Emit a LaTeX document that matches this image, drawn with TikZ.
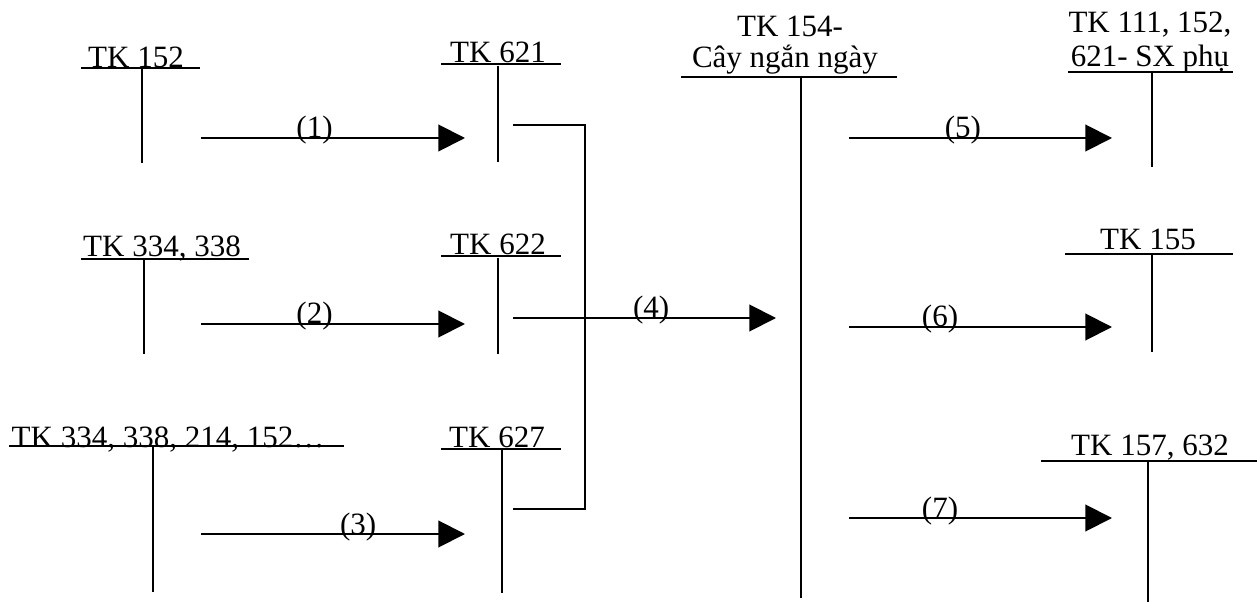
\documentclass[tikz,border=0pt]{standalone}
\usepackage{fontspec}
\setmainfont{Liberation Serif}
\usepackage{tikz}
\usetikzlibrary{arrows.meta}

\begin{document}
\begin{tikzpicture}[x=0.75pt, y=-0.75pt,
        acct/.style={anchor=base, inner sep=0pt, font=\fontsize{23.25}{28}\selectfont},
        tline/.style={line width=1.1pt},
        flow/.style={->, line width=1.5pt},
        >={Triangle[length=20pt, width=20pt]}]

        \useasboundingbox (0,0) rectangle (1257,602);

        % left column
        \node[acct] (t152) at (136,68) {TK 152};
        \draw[tline] (81,68) -- (200,68) (142,68) -- (142,163);
        \node[acct] (t334) at (162,257) {TK 334, 338};
        \draw[tline] (81,259) -- (249,259) (144,259) -- (144,354);
        \node[acct] (t214) at (168,447) {TK 334, 338, 214, 152…};
        \draw[tline] (9,446) -- (344,446) (153,446) -- (153,592);

        % chi phi
        \node[acct] (t621) at (498,63) {TK 621};
        \draw[tline] (441,64) -- (561,64) (498,66) -- (498,162);
        \node[acct] (t622) at (498,255) {TK 622};
        \draw[tline] (441,256) -- (561,256) (498,258) -- (498,354);
        \node[acct] (t627) at (497,447) {TK 627};
        \draw[tline] (441,449) -- (561,449) (502,450) -- (502,593);

        % TK 154
        \node[acct] (t154) at (790,37) {TK 154-};
        \node[acct] (t154b) at (785,68) {Cây ngắn ngày};
        \draw[tline] (681,77) -- (897,77) (801,77) -- (801,598);

        % right column
        \node[acct] (t111) at (1150,33) {TK 111, 152,};
        \node[acct] (t111b) at (1150,67) {621- SX phụ};
        \draw[tline] (1068,72) -- (1233,72) (1152,72) -- (1152,167);
        \node[acct] (t155) at (1148,250) {TK 155};
        \draw[tline] (1065,254) -- (1233,254) (1152,255) -- (1152,352);
        \node[acct] (t157) at (1150,455) {TK 157, 632};
        \draw[tline] (1041,461) -- (1257,461) (1148,461) -- (1148,602);

        % connectors
        \coordinate (a1s) at (201,138);
        \coordinate (a1e) at (465,138);
        \coordinate (a2s) at (201,324);
        \coordinate (a2e) at (465,324);
        \coordinate (a3s) at (201,534);
        \coordinate (a3e) at (465,534);
        \coordinate (b1) at (513,125);
        \coordinate (b3) at (513,509);
        \coordinate (a4s) at (513,318);
        \coordinate (a4e) at (776,318);
        \coordinate (a5s) at (849,138);
        \coordinate (a5e) at (1112,138);
        \coordinate (a6s) at (849,327);
        \coordinate (a6e) at (1112,327);
        \coordinate (a7s) at (849,518);
        \coordinate (a7e) at (1112,518);

        \draw[flow] (a1s) -- node[acct, pos=.43] {(1)} (a1e);
        \draw[flow] (a2s) -- node[acct, pos=.43] {(2)} (a2e);
        \draw[flow] (a3s) -- node[acct, pos=.595] {(3)} (a3e);
        \draw[tline] (b1) -- (b1 -| 585,0) -- (b3 -| 585,0) -- (b3);
        \draw[flow] (a4s) -- node[acct, pos=.525] {(4)} (a4e);
        \draw[flow] (a5s) -- node[acct, pos=.433] {(5)} (a5e);
        \draw[flow] (a6s) -- node[acct, pos=.346] {(6)} (a6e);
        \draw[flow] (a7s) -- node[acct, pos=.346] {(7)} (a7e);

    \end{tikzpicture}
\end{document}
